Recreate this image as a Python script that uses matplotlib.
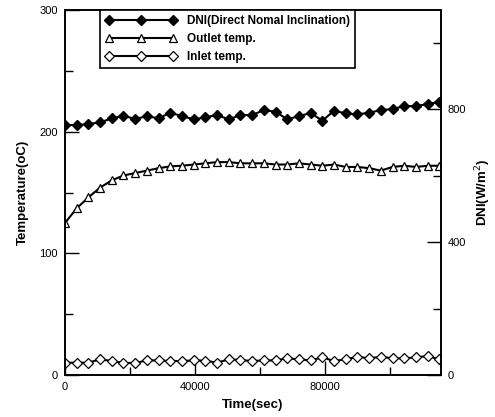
import numpy as np
import matplotlib.pyplot as plt
from matplotlib.ticker import MultipleLocator

plt.rcParams['font.family'] = ['Liberation Sans', 'DejaVu Sans']

# hourly samples (sec)
time_sec = np.arange(0, 115201, 3600)

dni = [752, 752, 755, 760, 772, 780, 770, 779, 772, 789, 779,
       769, 775, 782, 769, 782, 782, 797, 792, 769, 779, 788,
       765, 795, 787, 784, 789, 797, 800, 809, 809, 815, 822]

outlet = [125, 137, 146, 154, 160, 164, 166, 168, 170, 171.5, 172,
          173, 174, 175, 175, 174, 174, 174, 173, 173, 174, 173,
          172, 173, 171, 171, 170, 168, 171, 172, 171, 172, 172]

inlet = [10.1, 10.1, 10.1, 12.9, 11.5, 9.9, 9.9, 12, 12, 11.5, 11.5,
         12, 11.8, 10.1, 12.9, 12.3, 11.5, 12, 12, 13.7, 12.9, 12,
         14.5, 11.5, 12.9, 15, 13.7, 15, 13.7, 13.7, 14.5, 15.6, 12.9]

fig = plt.figure(figsize=(4.95, 4.17), dpi=100)
ax = fig.add_axes([0.1313, 0.1007, 0.7596, 0.8753])
ax2 = ax.twinx()

l_out, = ax.plot(time_sec, outlet, color='black', lw=1.5, marker='^', ms=5.5,
                 mfc='white', mec='black', mew=0.9)
l_in, = ax.plot(time_sec, inlet, color='black', lw=1.5, marker='D', ms=5,
                mfc='white', mec='black', mew=0.9)
l_dni, = ax2.plot(time_sec, dni, color='black', lw=1.5, marker='D', ms=5.5,
                  mfc='black', mec='black')

ax.set_xlim(0, 115700)
ax.set_ylim(0, 300)
ax2.set_ylim(0, 1098)

ax.xaxis.set_major_locator(MultipleLocator(40000))
ax.xaxis.set_minor_locator(MultipleLocator(20000))
ax.yaxis.set_major_locator(MultipleLocator(100))
ax.yaxis.set_minor_locator(MultipleLocator(50))
ax2.yaxis.set_major_locator(MultipleLocator(400))
ax2.yaxis.set_minor_locator(MultipleLocator(200))

for a in (ax, ax2):
    a.tick_params(which='major', direction='in', length=10, width=1, labelsize=8, pad=5)
    a.tick_params(which='minor', direction='in', length=6, width=1)
    for s in a.spines.values():
        s.set_linewidth(1.2)
ax.tick_params(top=False, which='both')

ax.set_xlabel('Time(sec)', fontsize=9.5, fontweight='bold', labelpad=5)
ax.set_ylabel('Temperature(oC)', fontsize=9.5, fontweight='bold', labelpad=8)
ax2.set_ylabel('DNI(W/m$^2$)', fontsize=9.5, fontweight='bold', labelpad=5)

leg = ax2.legend([l_dni, l_out, l_in],
                 ['DNI(Direct Nomal Inclination)', 'Outlet temp.', 'Inlet temp.'],
                 loc='upper left', bbox_to_anchor=(0.093, 1.0), borderaxespad=0,
                 numpoints=3, handlelength=6, fancybox=False, framealpha=1,
                 edgecolor='black', prop={'size': 8.5, 'weight': 'bold'},
                 labelspacing=0.5, borderpad=0.45, handletextpad=0.9)
leg.get_frame().set_linewidth(1.2)

fig.savefig('out.png', dpi=100)
